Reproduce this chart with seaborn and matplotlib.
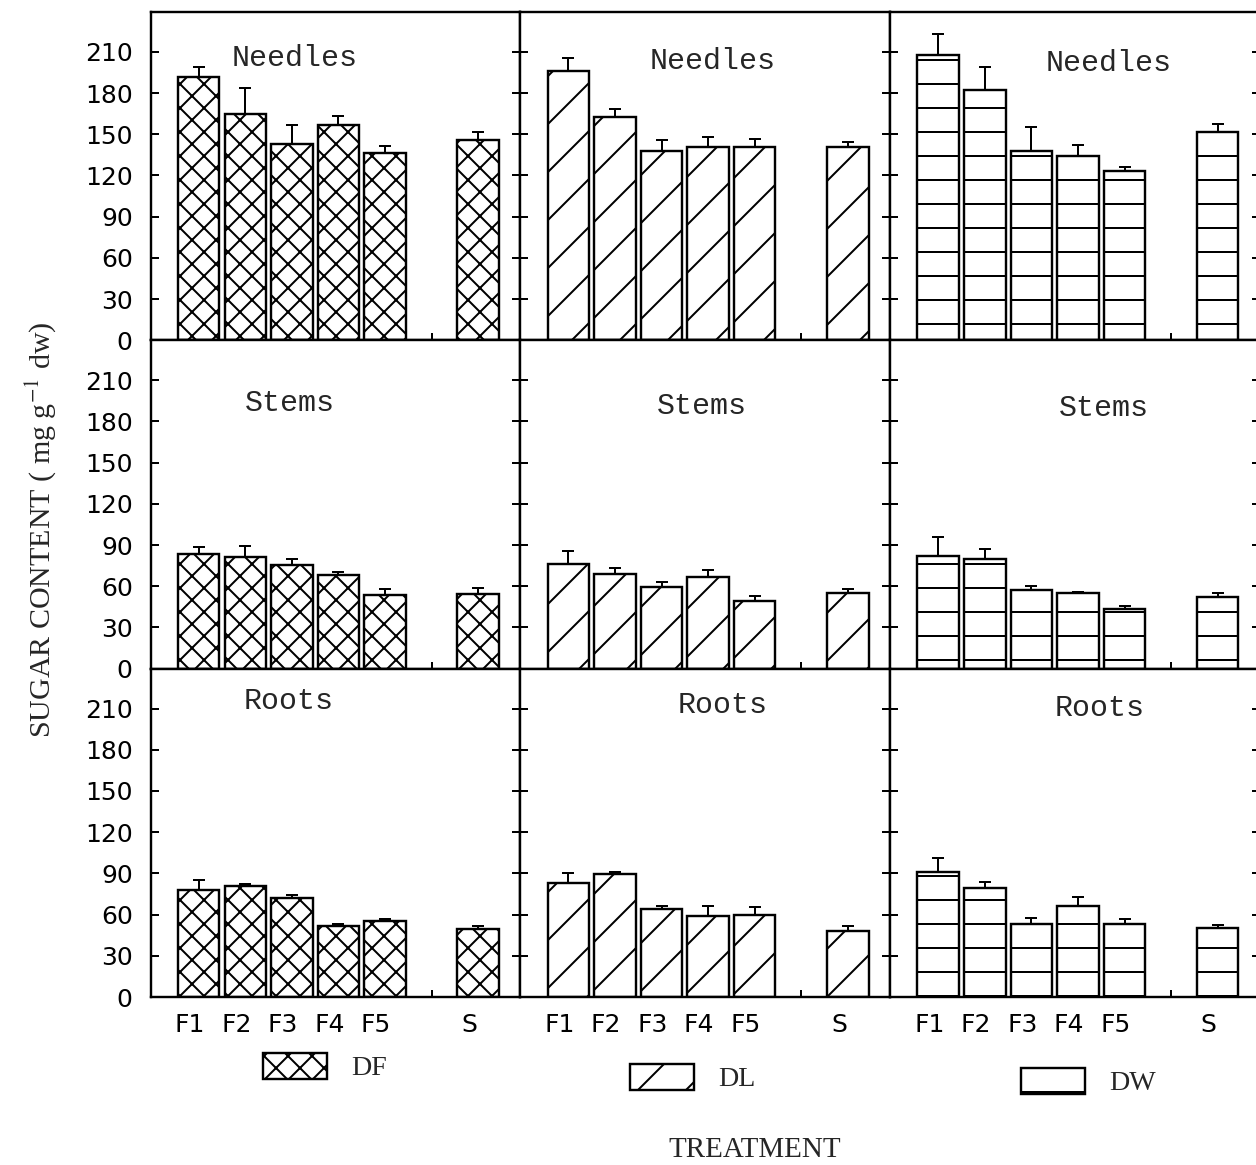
import numpy as np
import pandas as pd
import matplotlib
matplotlib.use("Agg")
import matplotlib.pyplot as plt
import matplotlib.patches as mpatches
from matplotlib.transforms import ScaledTranslation
import seaborn as sns

# Treatments (F1-F5 fertiliser levels, S = standard) and panel factors
treatments = ["F1", "F2", "F3", "F4", "F5", "S"]
organs = ["Needles", "Stems", "Roots"]
species = ["DF", "DL", "DW"]

# Sugar content (mg g-1 dw): means and standard errors
needles_df = [192, 165, 143, 157, 136, 146]
needles_df_se = [7, 19, 14, 6.5, 5.5, 5.5]
needles_dl = [196, 162.5, 137.5, 140.5, 141, 141]
needles_dl_se = [9.5, 6, 8.5, 7.5, 5.5, 3.5]
needles_dw = [208, 182, 138, 134, 123, 152]
needles_dw_se = [15, 17, 17.5, 8.5, 3.5, 5.5]

stems_df = [83.5, 81, 75.5, 68, 53.5, 54.5]
stems_df_se = [5, 8.5, 4, 2.5, 4.5, 4.5]
stems_dl = [76.5, 69, 59.5, 67, 49, 55]
stems_dl_se = [9.5, 4, 3.5, 5, 4, 3]
stems_dw = [82, 80, 57, 55, 43.5, 52]
stems_dw_se = [13.5, 7, 3, 1, 2, 3]

roots_df = [78, 80.5, 72, 51.5, 55.5, 49.5]
roots_df_se = [7, 2, 2.5, 2, 1, 2]
roots_dl = [83, 89.5, 64, 59, 60, 48]
roots_dl_se = [7, 1.5, 2.5, 7, 5.5, 3.5]
roots_dw = [91, 79.5, 53.5, 66, 53, 50]
roots_dw_se = [10.5, 4, 4, 7, 3.5, 2.5]

series = {
    ("Needles", "DF"): (needles_df, needles_df_se),
    ("Needles", "DL"): (needles_dl, needles_dl_se),
    ("Needles", "DW"): (needles_dw, needles_dw_se),
    ("Stems", "DF"): (stems_df, stems_df_se),
    ("Stems", "DL"): (stems_dl, stems_dl_se),
    ("Stems", "DW"): (stems_dw, stems_dw_se),
    ("Roots", "DF"): (roots_df, roots_df_se),
    ("Roots", "DL"): (roots_dl, roots_dl_se),
    ("Roots", "DW"): (roots_dw, roots_dw_se),
}

rows = []
for (organ, sp), (means, ses) in series.items():
    for t, m, s in zip(treatments, means, ses):
        rows.append({"organ": organ, "species": sp, "treatment": t, "sugar": m, "se": s})
data = pd.DataFrame(rows)

# an empty slot separates the fertiliser levels from the standard
slots = ["F1", "F2", "F3", "F4", "F5", " ", "S"]
hatches = {"DF": "xx", "DL": "/", "DW": "-"}

# title placement inside each panel (axes fraction)
title_pos = {
    ("Needles", "DF"): (0.39, 0.86), ("Needles", "DL"): (0.52, 0.85), ("Needles", "DW"): (0.59, 0.845),
    ("Stems", "DF"): (0.375, 0.81), ("Stems", "DL"): (0.49, 0.80), ("Stems", "DW"): (0.578, 0.793),
    ("Roots", "DF"): (0.373, 0.903), ("Roots", "DL"): (0.546, 0.89), ("Roots", "DW"): (0.565, 0.88),
}

sns.set_theme(style="ticks")
plt.rcParams["font.family"] = ["DejaVu Sans"]
plt.rcParams["mathtext.fontset"] = "stix"
plt.rcParams["hatch.linewidth"] = 1.0
plt.rcParams["hatch.color"] = "black"

DPI = 144
fig, axes = plt.subplots(3, 3, figsize=(1256 / DPI, 1165 / DPI), dpi=DPI,
                         sharex=True, sharey=True,
                         gridspec_kw=dict(hspace=0, wspace=0))
fig.subplots_adjust(left=0.12, right=1.0032, top=0.9897, bottom=0.1442)

for i, organ in enumerate(organs):
    for j, sp in enumerate(species):
        ax = axes[i, j]
        sub = data[(data.organ == organ) & (data.species == sp)]
        sns.barplot(data=sub, x="treatment", y="sugar", order=slots, ax=ax,
                    color="white", edgecolor="black", linewidth=1.2,
                    width=0.89, hatch=hatches[sp], errorbar=None, saturation=1)
        xs = [slots.index(t) for t in sub.treatment]
        ax.errorbar(xs, sub.sugar, yerr=[np.zeros(len(sub)), sub.se.values],
                    fmt="none", ecolor="black", elinewidth=1.0,
                    capsize=3, capthick=1.0, zorder=5)
        ax.set_xlabel("")
        ax.set_ylabel("")
        ax.set_xlim(-1.03, 6.91)
        ax.set_ylim(0, 239)
        ax.set_yticks(range(0, 211, 30))
        for side in ax.spines.values():
            side.set_linewidth(1.2)
            side.set_color("black")
        ax.tick_params(axis="y", direction="in", left=True, right=True,
                       length=4, width=1.0, labelsize=12.5, pad=9,
                       labelleft=(j == 0), colors="black")
        ax.tick_params(axis="x", direction="in", bottom=True, top=False,
                       length=3.5, width=1.0, labelsize=12.5, pad=8,
                       labelbottom=(i == 2), colors="black")
        tx, ty = title_pos[(organ, sp)]
        ax.text(tx, ty, organ, transform=ax.transAxes, ha="center", va="center",
                fontsize=15, family="Liberation Mono", fontweight="normal")

# nudge the treatment labels slightly left of the bar centres
shift = ScaledTranslation(-9 / DPI, 0, fig.dpi_scale_trans)
for ax in axes[2]:
    for lab in ax.get_xticklabels():
        lab.set_transform(lab.get_transform() + shift)

fig.text(0.032, 0.545, r"SUGAR CONTENT ( mg g$^{-1}$ dw)", rotation=90,
         ha="center", va="center", fontsize=15, family="Liberation Serif")
fig.text(0.601, 0.013, "TREATMENT", ha="center", va="center",
         fontsize=14.5, family="Liberation Serif")

legend_anchor = {"DF": (0.2094, 0.0841), "DL": (0.5016, 0.0747), "DW": (0.8129, 0.0712)}
for sp in species:
    handle = mpatches.Patch(facecolor="white", edgecolor="black", hatch=hatches[sp],
                            linewidth=1.2, label=sp)
    fig.legend(handles=[handle], loc="center left", bbox_to_anchor=legend_anchor[sp],
               frameon=False, handlelength=2.3, handleheight=1.05,
               handletextpad=0.85, borderpad=0, borderaxespad=0,
               prop={"family": "Liberation Serif", "size": 14})

fig.savefig("out.png", dpi=DPI, facecolor="white")
